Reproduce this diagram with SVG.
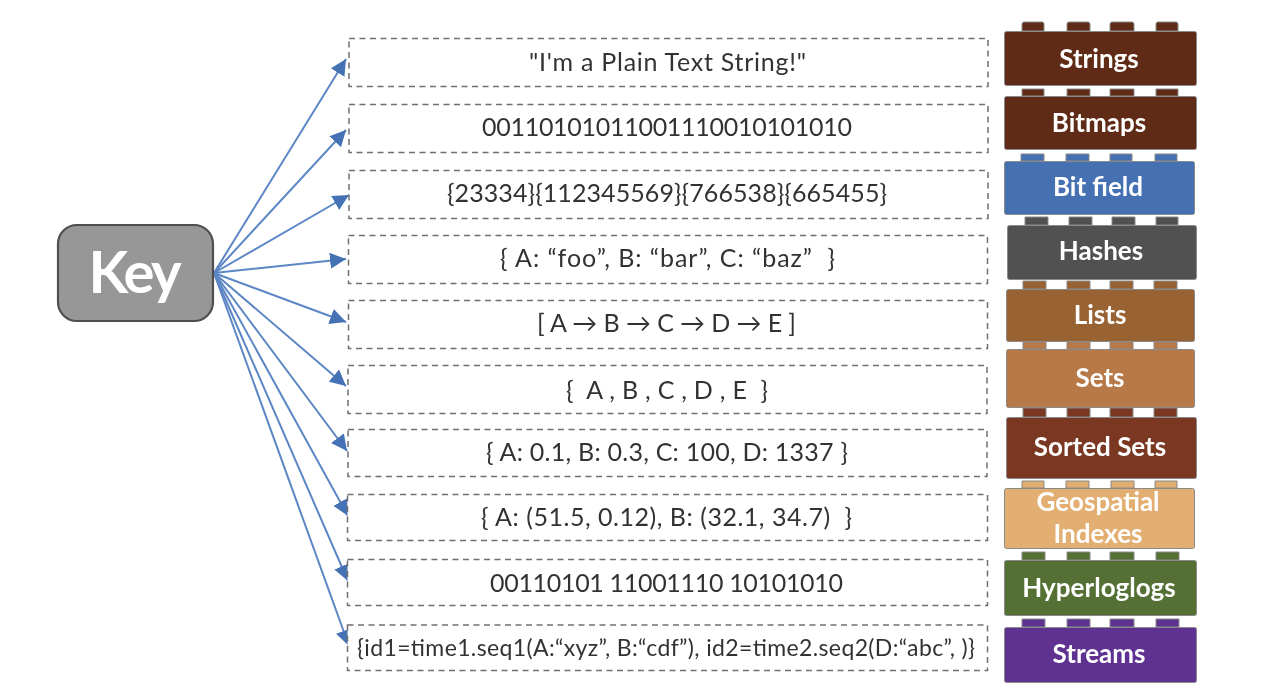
<svg xmlns="http://www.w3.org/2000/svg" width="1280" height="695" viewBox="0 0 1280 695">
<defs>
<marker id="ah" markerUnits="userSpaceOnUse" markerWidth="18" markerHeight="16" refX="16" refY="8" orient="auto"><path d="M0 0L16 8L0 16Z" fill="#4472b4"/></marker>
<filter id="soft" x="0" y="0" width="100%" height="100%" filterUnits="userSpaceOnUse"><feGaussianBlur stdDeviation="0.55"/></filter>
</defs>
<style>
text{font-family:"Lato","Carlito","Open Sans",sans-serif;text-anchor:middle}
.box{fill:#fff;stroke:#707070;stroke-width:1.5;stroke-dasharray:6 4.500}
.val{font-size:25px;fill:#333}
.lab{font-size:26px;font-weight:700;fill:#fff}
.brick{stroke:#8a8a8a;stroke-width:1}
.c{fill:none;stroke:#5b86c4;stroke-width:2;marker-end:url(#ah)}
</style>
<rect width="1280" height="695" fill="#fff"/>
<g filter="url(#soft)">
<g id="connectors">
<path class="c" d="M214 273L346 59"/>
<path class="c" d="M214 273L346 130"/>
<path class="c" d="M214 273L349 195"/>
<path class="c" d="M214 273L346 259"/>
<path class="c" d="M214 273L346 322"/>
<path class="c" d="M214 273L346 386"/>
<path class="c" d="M214 273L347 451"/>
<path class="c" d="M214 273L348 516"/>
<path class="c" d="M214 273L348 581"/>
<path class="c" d="M214 273L349 646"/>
</g>
<g id="key"><rect x="58" y="225" width="155" height="96" rx="19" fill="#979797" stroke="#4f4f4f" stroke-width="2.2"/><text x="135" y="293" textLength="93" style="font-size:58px;font-weight:700;fill:#fff">Key</text></g>
<g id="v1"><rect class="box" x="349" y="38.500" width="639" height="48"/><text class="val" x="667.500" y="71" textLength="277">"I'm a Plain Text String!"</text></g>
<g id="v2"><rect class="box" x="349" y="104.500" width="639" height="48"/><text class="val" x="667" y="136" textLength="370">00110101011001110010101010</text></g>
<g id="v3"><rect class="box" x="349" y="170.500" width="639" height="48"/><text class="val" x="667" y="202" textLength="440">{23334}{112345569}{766538}{665455}</text></g>
<g id="v4"><rect class="box" x="348.500" y="235.500" width="639" height="48"/><text class="val" x="667.500" y="267" textLength="335" xml:space="preserve">{ A: “foo”, B: “bar”, C: “baz”  }</text></g>
<g id="v5"><rect class="box" x="348.500" y="300.500" width="639" height="48"/><text class="val" x="666.500" y="332" textLength="259">[ A → B → C → D → E ]</text></g>
<g id="v6"><rect class="box" x="348" y="365.500" width="639" height="48"/><text class="val" x="667" y="399" textLength="202" xml:space="preserve">{  A , B , C , D , E  }</text></g>
<g id="v7"><rect class="box" x="348" y="429.500" width="639" height="47"/><text class="val" x="667" y="461" textLength="362">{ A: 0.1, B: 0.3, C: 100, D: 1337 }</text></g>
<g id="v8"><rect class="box" x="347.500" y="494.500" width="640" height="46"/><text class="val" x="666.500" y="526" textLength="371" xml:space="preserve">{ A: (51.5, 0.12), B: (32.1, 34.7)  }</text></g>
<g id="v9"><rect class="box" x="347.500" y="559.500" width="640" height="46"/><text class="val" x="666.500" y="592" textLength="353">00110101 11001110 10101010</text></g>
<g id="v10"><rect class="box" x="347.500" y="625" width="640" height="45.500"/><text class="val" x="666" y="656" textLength="618" style="font-size:23px">{id1=time1.seq1(A:“xyz”, B:“cdf”), id2=time2.seq2(D:“abc”, )}</text></g>
<g id="strings" fill="#5f2c14"><path class="brick" d="M1022 31V24Q1022 22 1024 22H1042Q1044 22 1044 24V31ZM1067 31V24Q1067 22 1069 22H1088Q1090 22 1090 24V31ZM1110 31V24Q1110 22 1112 22H1132Q1134 22 1134 24V31ZM1156 31V24Q1156 22 1158 22H1176Q1178 22 1178 24V31Z"/><rect class="brick" x="1004.500" y="31.500" width="192" height="54" rx="2"/><text class="lab" x="1099" y="68">Strings</text></g>
<g id="bitmaps" fill="#5f2c14"><path class="brick" d="M1022 96V89H1044V96ZM1067 96V89H1090V96ZM1110 96V89H1134V96ZM1156 96V89H1178V96Z"/><rect class="brick" x="1004.500" y="96.500" width="192" height="53" rx="2"/><text class="lab" x="1099" y="132">Bitmaps</text></g>
<g id="bitfield" fill="#4471b3"><path class="brick" d="M1021 161V154H1044V161ZM1066 161V154H1089V161ZM1110 161V154H1132V161ZM1155 161V154H1177V161Z"/><rect class="brick" x="1004.500" y="161.500" width="190" height="53" rx="2"/><text class="lab" x="1098" y="196">Bit field</text></g>
<g id="hashes" fill="#515151"><path class="brick" d="M1025 225V217H1048V225ZM1069 225V217H1092V225ZM1112 225V217H1135V225ZM1156 225V217H1178V225Z"/><rect class="brick" x="1007.500" y="225.500" width="189" height="54" rx="2"/><text class="lab" x="1101" y="260">Hashes</text></g>
<g id="lists" fill="#996232"><path class="brick" d="M1023 289V281H1046V289ZM1067 289V281H1090V289ZM1110 289V281H1133V289ZM1154 289V281H1177V289Z"/><rect class="brick" x="1006.500" y="289.500" width="188" height="52" rx="2"/><text class="lab" x="1100" y="324">Lists</text></g>
<g id="sets" fill="#b67947"><path class="brick" d="M1023 349V342H1046V349ZM1067 349V342H1090V349ZM1110 349V342H1133V349ZM1154 349V342H1177V349Z"/><rect class="brick" x="1006.500" y="349.500" width="188" height="58" rx="2"/><text class="lab" x="1100" y="387">Sets</text></g>
<g id="sortedsets" fill="#7a3821"><path class="brick" d="M1023 417V408H1046V417ZM1067 417V408H1090V417ZM1110 417V408H1133V417ZM1154 417V408H1177V417Z"/><rect class="brick" x="1006.500" y="417.500" width="190" height="61" rx="2"/><text class="lab" x="1100" y="456">Sorted Sets</text></g>
<g id="geospatial" fill="#e3ae72"><path class="brick" d="M1022 488V481H1044V488ZM1066 488V481H1089V488ZM1111 488V481H1134V488ZM1155 488V481H1177V488Z"/><rect class="brick" x="1004.500" y="488.500" width="190" height="60" rx="2"/><text class="lab" x="1098" y="511">Geospatial</text><text class="lab" x="1098" y="543">Indexes</text></g>
<g id="hyperloglogs" fill="#556f34"><path class="brick" d="M1022 560V552H1045V560ZM1067 560V552H1090V560ZM1110 560V552H1134V560ZM1156 560V552H1179V560Z"/><rect class="brick" x="1004.500" y="560.500" width="192" height="55" rx="2"/><text class="lab" x="1099" y="597">Hyperloglogs</text></g>
<g id="streams" fill="#5e3291"><path class="brick" d="M1022 627V619H1045V627ZM1067 627V619H1090V627ZM1110 627V619H1134V627ZM1156 627V619H1179V627Z"/><rect class="brick" x="1004.500" y="627.500" width="192" height="55" rx="2"/><text class="lab" x="1099" y="663">Streams</text></g>
</g>
</svg>
